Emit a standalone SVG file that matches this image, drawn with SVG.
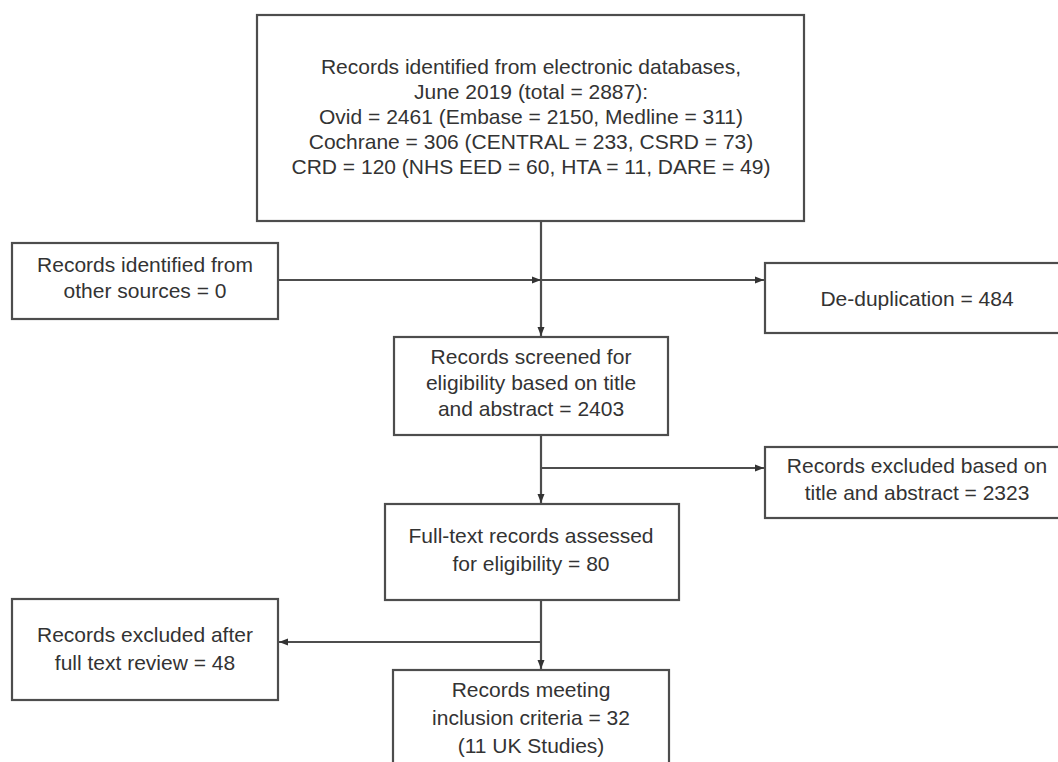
<svg xmlns="http://www.w3.org/2000/svg" width="1058" height="762" viewBox="0 0 1058 762">
<defs>
<style>
.box{fill:#fff;stroke:#4d4d4d;stroke-width:2.2}
.t{font-family:"Liberation Sans",Arial,sans-serif;font-size:21px;fill:#333;text-anchor:middle}
.ln{fill:none;stroke:#4d4d4d;stroke-width:2.2}
</style>
<marker id="ah" markerUnits="userSpaceOnUse" markerWidth="10" markerHeight="10" refX="9" refY="5" orient="auto">
<path d="M0,1.5 L9,5 L0,8.5 Z" fill="#333"/>
</marker>
</defs>
<rect width="1058" height="762" fill="#fff"/>
<g id="connectors">
<path class="ln" d="M541,221 V336" marker-end="url(#ah)"/>
<path class="ln" d="M278,280 H541" marker-end="url(#ah)"/>
<path class="ln" d="M541,280 H764" marker-end="url(#ah)"/>
<path class="ln" d="M541,435 V503" marker-end="url(#ah)"/>
<path class="ln" d="M541,468 H764" marker-end="url(#ah)"/>
<path class="ln" d="M541,600 V669" marker-end="url(#ah)"/>
<path class="ln" d="M541,642 H279" marker-end="url(#ah)"/>
</g>
<g id="n-databases">
<rect class="box" x="257" y="15" width="547" height="206"/>
<text class="t" x="531" y="74">Records identified from electronic databases,</text>
<text class="t" x="531" y="99">June 2019 (total = 2887):</text>
<text class="t" x="531" y="124">Ovid = 2461 (Embase = 2150, Medline = 311)</text>
<text class="t" x="531" y="149">Cochrane = 306 (CENTRAL = 233, CSRD = 73)</text>
<text class="t" x="531" y="174">CRD = 120 (NHS EED = 60, HTA = 11, DARE = 49)</text>
</g>
<g id="n-other">
<rect class="box" x="12" y="243" width="266" height="76"/>
<text class="t" x="145" y="272">Records identified from</text>
<text class="t" x="145" y="298">other sources = 0</text>
</g>
<g id="n-dedup">
<rect class="box" x="765" y="263" width="310" height="70"/>
<text class="t" x="917" y="306">De-duplication  = 484</text>
</g>
<g id="n-screened">
<rect class="box" x="394" y="337" width="274" height="98"/>
<text class="t" x="531" y="364">Records screened for</text>
<text class="t" x="531" y="390">eligibility based on title</text>
<text class="t" x="531" y="416">and abstract = 2403</text>
</g>
<g id="n-excl-ta">
<rect class="box" x="765" y="447" width="310" height="71"/>
<text class="t" x="917" y="473">Records excluded based on</text>
<text class="t" x="917" y="500">title and abstract = 2323</text>
</g>
<g id="n-fulltext">
<rect class="box" x="385" y="504" width="294" height="96"/>
<text class="t" x="531" y="543">Full-text records assessed</text>
<text class="t" x="531" y="571">for eligibility = 80</text>
</g>
<g id="n-excl-ft">
<rect class="box" x="12" y="599" width="266" height="101"/>
<text class="t" x="145" y="642">Records excluded after</text>
<text class="t" x="145" y="670">full text review = 48</text>
</g>
<g id="n-included">
<rect class="box" x="393" y="670" width="276" height="110"/>
<text class="t" x="531" y="697">Records meeting</text>
<text class="t" x="531" y="725">inclusion criteria = 32</text>
<text class="t" x="531" y="753">(11 UK Studies)</text>
</g>
</svg>
